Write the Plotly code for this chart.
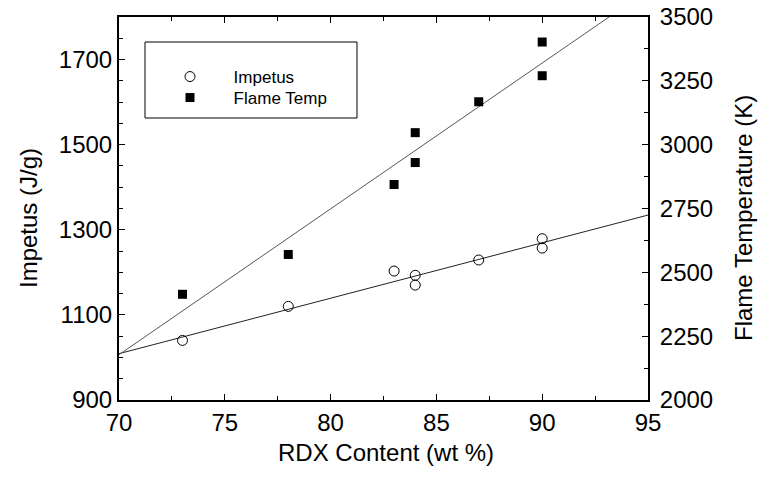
import numpy as np
import plotly.graph_objects as go

# --- data ---
rdx_impetus = [73, 78, 83, 84, 84, 87, 90, 90]
impetus = [1040, 1120, 1203, 1193, 1170, 1229, 1279, 1257]
rdx_flame = [73, 78, 83, 84, 84, 87, 90, 90]
flame_temp = [2414, 2570, 2844, 2930, 3047, 3168, 3270, 3402]

x_range = [70, 95]
x_ticks = [70, 75, 80, 85, 90, 95]
y1_ticks = [900, 1100, 1300, 1500, 1700]
y2_ticks = [2000, 2250, 2500, 2750, 3000, 3250, 3500]

# linear fits
p_imp = np.polyfit(rdx_impetus, impetus, 1)
p_fl = np.polyfit(rdx_flame, flame_temp, 1)
xf = np.array(x_range, dtype=float)

FONT = "Liberation Sans, Arial, Helvetica, sans-serif"
NB = "\u00a0" * 5

L, R, T, B = 119, 648, 17, 400
PW, PH = R - L, B - T


def px(xp):
    return (xp - L) / PW


def py(yp):
    return (B - yp) / PH


fig = go.Figure()
fig.add_trace(go.Scatter(x=xf, y=np.polyval(p_imp, xf), mode="lines",
                         line=dict(color="#222", width=1), showlegend=False,
                         hoverinfo="skip"))
fig.add_trace(go.Scatter(x=xf, y=np.polyval(p_fl, xf), mode="lines", yaxis="y2",
                         line=dict(color="#555", width=1), showlegend=False,
                         hoverinfo="skip"))
fig.add_trace(go.Scatter(x=rdx_impetus, y=impetus, mode="markers", name=NB + "Impetus",
                         legend="legend",
                         marker=dict(symbol="circle-open", size=10,
                                     color="black", line=dict(width=1, color="black"))))
fig.add_trace(go.Scatter(x=rdx_flame, y=flame_temp, mode="markers", name=NB + "Flame Temp",
                         yaxis="y2", legend="legend2",
                         marker=dict(symbol="square", size=9, color="black")))

axis_common = dict(showgrid=False, zeroline=False, showline=True, linecolor="black",
                   linewidth=2, ticks="inside", tickcolor="black", tickwidth=1,
                   ticklen=6, automargin=False,
                   tickfont=dict(family=FONT, size=24, color="black"))

leg_common = dict(xanchor="left", yanchor="middle", bgcolor="rgba(0,0,0,0)",
                  borderwidth=0, font=dict(family=FONT, size=17, color="black"))

fig.update_layout(
    width=761, height=479,
    margin=dict(l=L, r=761 - R, t=T, b=479 - B, autoexpand=False),
    paper_bgcolor="white", plot_bgcolor="white",
    font=dict(family=FONT, color="black"),
    xaxis=dict(range=x_range, tickvals=x_ticks, mirror="ticks",
               minor=dict(ticks="inside", dtick=2.5, ticklen=4, tickcolor="black"),
               **axis_common),
    yaxis=dict(range=[900, 1800], tickvals=y1_ticks,
               minor=dict(ticks="inside", dtick=50, ticklen=4, tickcolor="black"),
               **axis_common),
    yaxis2=dict(range=[2000, 3500], tickvals=y2_ticks, overlaying="y", side="right",
                ticklabelstandoff=5,
                minor=dict(ticks="inside", dtick=125, ticklen=4, tickcolor="black"),
                **axis_common),
    legend=dict(x=px(170), y=py(77), **leg_common),
    legend2=dict(x=px(170), y=py(98), **leg_common),
    shapes=[dict(type="rect", xref="paper", yref="paper",
                 x0=px(145), x1=px(357), y0=py(118), y1=py(42),
                 line=dict(color="black", width=1), fillcolor="rgba(0,0,0,0)")],
    annotations=[
        dict(text="RDX Content (wt %)", xref="paper", yref="paper",
             x=px(386), y=py(452), xanchor="center", yanchor="middle",
             showarrow=False, font=dict(family=FONT, size=24)),
        dict(text="Impetus (J/g)", xref="paper", yref="paper", textangle=-90,
             x=px(28), y=py(218), xanchor="center", yanchor="middle",
             showarrow=False, font=dict(family=FONT, size=24)),
        dict(text="Flame Temperature (K)", xref="paper", yref="paper", textangle=-90,
             x=px(743), y=py(218), xanchor="center", yanchor="middle",
             showarrow=False, font=dict(family=FONT, size=24)),
    ],
)

fig.write_html("out.html")
